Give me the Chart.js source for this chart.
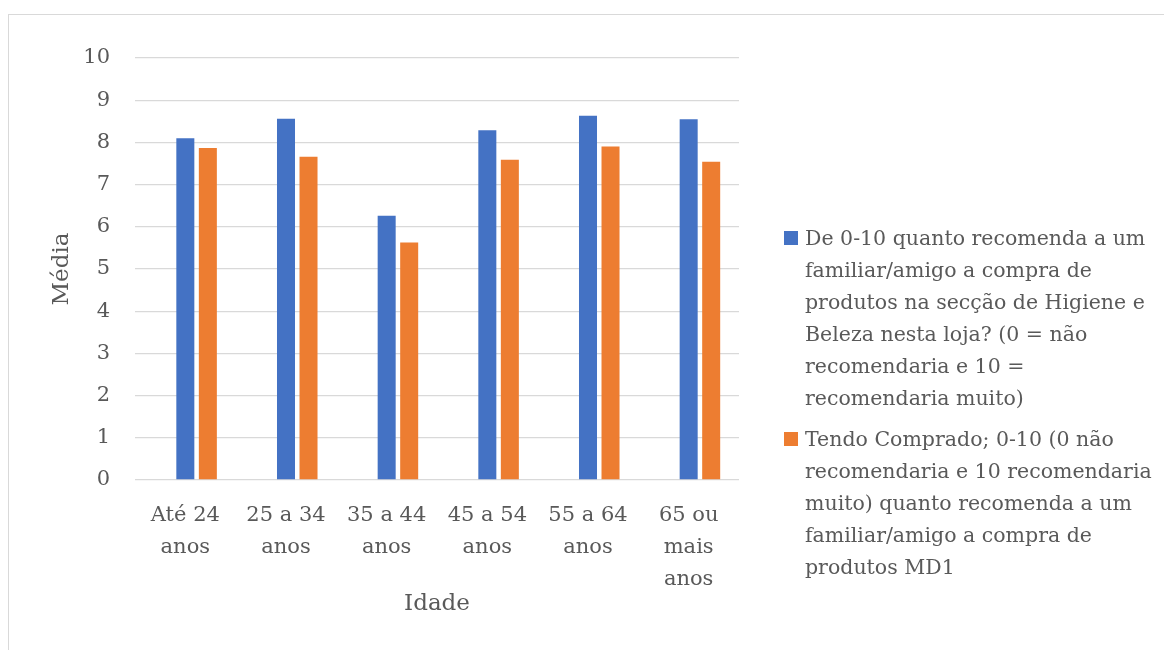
<!DOCTYPE html>
<html lang="pt">
<head>
<meta charset="utf-8">
<title>Média por idade</title>
<script src="https://cdn.jsdelivr.net/npm/chart.js@4/dist/chart.umd.min.js"></script>
<style>
  html, body { margin: 0; padding: 0; background: #ffffff; }
  body { width: 1164px; height: 650px; position: relative; overflow: hidden; }
  #frame {
    position: absolute; left: 8px; top: 14px; width: 1300px; height: 800px;
    border-left: 1.5px solid #d9d9d9; border-top: 1.5px solid #d9d9d9;
    box-sizing: border-box;
  }
  #chart { position: absolute; left: 0; top: 0; }
  #legend {
    position: absolute; left: 784px; top: 222px; width: 380px;
    font-family: "DejaVu Serif", serif; font-size: 20.5px; line-height: 32px; color: #595959;
  }
  .item { position: relative; padding-left: 21px; margin-bottom: 9px; white-space: nowrap; }
  .swatch { position: absolute; left: 0; top: 9px; width: 14px; height: 14px; }
</style>
</head>
<body>
<div id="frame"></div>
<canvas id="chart" width="1164" height="650"></canvas>
<div id="legend"></div>
<script>
// Age groups (x categories), each label split over its lines
const categories = [
  ["Até 24", "anos"],
  ["25 a 34", "anos"],
  ["35 a 44", "anos"],
  ["45 a 54", "anos"],
  ["55 a 64", "anos"],
  ["65 ou", "mais", "anos"]
];

// Mean score (0-10) per age group
const recomendaHigieneBeleza = [8.10, 8.56, 6.26, 8.29, 8.63, 8.55];
const recomendaMD1 = [7.87, 7.66, 5.63, 7.59, 7.90, 7.54];
// Blank series that keeps its slot in each group
const serieVazia = [null, null, null, null, null, null];

// Series names, as wrapped in the legend
const nomeHigieneBeleza = [
  "De 0-10 quanto recomenda a um",
  "familiar/amigo a compra de",
  "produtos na secção de Higiene e",
  "Beleza nesta loja? (0 = não",
  "recomendaria e 10 =",
  "recomendaria muito)"
];
const nomeMD1 = [
  "Tendo Comprado; 0-10 (0 não",
  "recomendaria e 10 recomendaria",
  "muito) quanto recomenda a um",
  "familiar/amigo a compra de",
  "produtos MD1"
];

const yTicks = [0, 1, 2, 3, 4, 5, 6, 7, 8, 9, 10];
const yTitle = "Média";
const xTitle = "Idade";

const FONT = "'DejaVu Serif', serif";
const TEXT = "#595959";
const GRID = "#d9d9d9";

const datasets = [
  { label: "", legendLines: null, data: serieVazia, backgroundColor: "rgba(0,0,0,0)" },
  { label: nomeHigieneBeleza.join(" "), legendLines: nomeHigieneBeleza,
    data: recomendaHigieneBeleza, backgroundColor: "#4472C4" },
  { label: nomeMD1.join(" "), legendLines: nomeMD1,
    data: recomendaMD1, backgroundColor: "#ED7D31" }
];

const chart = new Chart(document.getElementById("chart"), {
  type: "bar",
  data: {
    labels: categories,
    datasets: datasets.map(d => ({
      label: d.label,
      data: d.data,
      backgroundColor: d.backgroundColor,
      borderWidth: 0,
      categoryPercentage: 0.671,
      barPercentage: 0.8
    }))
  },
  options: {
    responsive: false,
    animation: false,
    devicePixelRatio: 1,
    layout: { padding: { left: 0, right: 425, top: 58, bottom: 0 } },
    plugins: {
      legend: { display: false },
      tooltip: { enabled: false }
    },
    scales: {
      x: {
        grid: { display: false, drawTicks: false },
        border: { display: false },
        ticks: {
          color: TEXT, padding: 20, maxRotation: 0, autoSkip: false,
          font: { family: FONT, size: 21, lineHeight: 1.524 }
        },
        title: {
          display: true, text: xTitle, color: TEXT,
          font: { family: FONT, size: 23, lineHeight: 1.2 },
          padding: { top: 0, bottom: 32 }
        },
        afterFit: s => { s.height = 170; }
      },
      y: {
        min: 0, max: 10,
        afterBuildTicks: s => { s.ticks = yTicks.map(v => ({ value: v })); },
        grid: { color: GRID, lineWidth: 1.3, drawTicks: false },
        border: { display: false },
        ticks: {
          color: TEXT, padding: 25,
          font: { family: FONT, size: 21 }
        },
        title: {
          display: true, text: yTitle, color: TEXT,
          font: { family: FONT, size: 23, lineHeight: 1.2 },
          padding: { top: 48, bottom: 0 }
        },
        afterFit: s => { s.width = 135; }
      }
    }
  }
});

// HTML legend built from the chart's datasets
const legend = document.getElementById("legend");
chart.data.datasets.forEach((ds, i) => {
  const lines = datasets[i].legendLines;
  if (!lines) return;
  const item = document.createElement("div");
  item.className = "item";
  const sw = document.createElement("span");
  sw.className = "swatch";
  sw.style.background = ds.backgroundColor;
  item.appendChild(sw);
  lines.forEach((t, k) => {
    if (k) item.appendChild(document.createElement("br"));
    item.appendChild(document.createTextNode(t));
  });
  legend.appendChild(item);
});
</script>
</body>
</html>
